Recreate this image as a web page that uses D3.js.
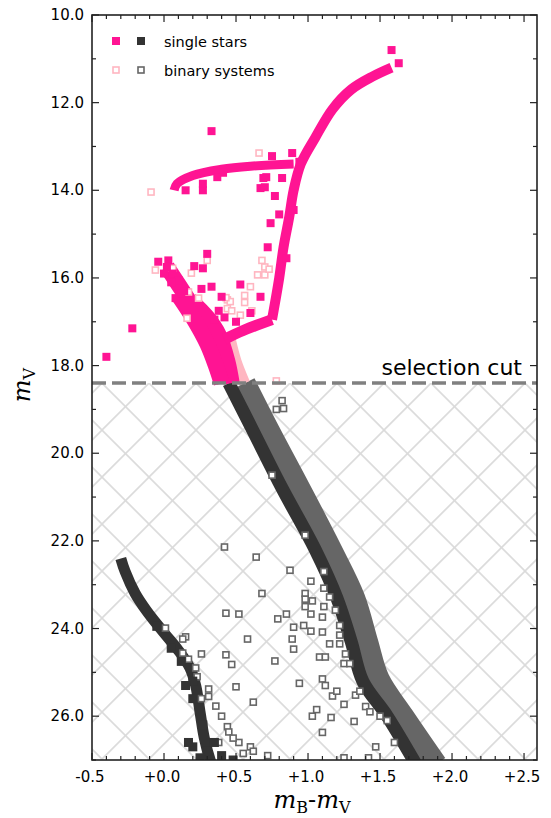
<!DOCTYPE html>
<html><head><meta charset="utf-8">
<script src="https://cdn.jsdelivr.net/npm/d3@7"></script>
<style>body{margin:0;background:#fff}</style>
</head><body><svg id="c" width="551" height="818"></svg>
<script>
// dense sequences, [colour index, magnitude]
var rgb = [[0.75,16.95],[0.8,16.0],[0.83,15.3],[0.87,14.6],[0.9,14.0],[0.95,13.4],[1.05,12.8],[1.17,12.15],[1.3,11.7],[1.45,11.4],[1.58,11.2]];
var sgb = [[0.42,17.4],[0.55,17.2],[0.75,16.95]];
var hb = [[0.07,14.0],[0.09,13.85],[0.2,13.66],[0.4,13.52],[0.6,13.45],[0.9,13.4]];
var toA = [[0.02,15.75],[0.1,16.15],[0.2,16.65],[0.3,17.15],[0.37,17.7],[0.42,18.4]];
var toB = [[0.18,16.5],[0.3,16.9],[0.38,17.3],[0.44,17.9],[0.47,18.4]];
var toC = [[0.1,16.4],[0.2,16.9],[0.3,17.5],[0.36,18.0],[0.4,18.4]];
var pinkBin = [[0.46,17.4],[0.5,17.9],[0.56,18.4]];
var msSingle = [[0.45,18.4],[0.62,19.5],[0.82,20.8],[1.05,22.2],[1.2,23.3],[1.3,24.3],[1.38,25.2],[1.55,26.0],[1.75,27.1]];
var msBin = [[0.56,18.4],[0.73,19.5],[0.94,20.8],[1.16,22.2],[1.32,23.3],[1.41,24.3],[1.49,25.15],[1.66,26.0],[1.89,27.1]];
var wd = [[-0.3,22.4],[-0.27,22.7],[-0.2,23.2],[-0.12,23.6],[0.0,24.1],[0.1,24.5],[0.18,24.9],[0.22,25.3],[0.25,25.9],[0.28,26.5],[0.33,27.1]];

// scattered stars
var pinkSingle = [[0.33,12.65],[0.15,14.0],[0.27,14.0],[0.27,13.85],[0.41,13.6],[0.37,13.7],[0.69,13.72],[0.71,13.7],[0.67,13.95],[0.7,13.93],[0.82,13.72],[0.77,14.13],[0.75,13.22],[0.89,13.15],[0.94,13.35],
  [-0.22,17.15],[-0.4,17.8],[0.3,15.45],[0.74,14.75],[0.72,15.3],[0.85,15.55],[0.8,14.55],[0.9,14.45],[0.53,16.15],[0.67,16.43],[0.4,16.43],[0.33,16.2],[0.26,16.25],
  [0.21,15.73],[0.27,15.78],[-0.04,15.63],[0.03,15.6],[0.06,15.9],[0.1,16.05],[0.08,16.46],[0.38,16.75],[1.63,11.1],[1.58,10.8],[0.02,15.75],[0.14,16.3],[0.6,16.8],
  [0.0,15.9],[0.05,16.1],[0.12,16.35],[0.35,16.95],[0.42,16.9],[0.5,17.0]];
var pinkBinary = [[-0.09,14.04],[0.66,13.15],[-0.06,15.82],[0.06,15.78],[0.19,15.89],[0.3,15.6],[0.17,16.32],[0.24,16.46],[0.44,16.5],[0.46,16.54],[0.56,16.56],[0.56,16.4],
  [0.6,16.2],[0.65,15.93],[0.7,15.93],[0.7,15.75],[0.68,15.6],[0.73,15.8],[0.44,16.7],[0.47,16.75],[0.53,16.85],[0.61,16.75],[0.16,16.92],[0.43,16.45],[0.78,18.35]];
var greyBinary = [[0.82,18.8],[0.78,19.0],[0.83,18.98],[0.75,20.5],[0.98,21.87],
  [0.42,22.14],[0.64,22.37],[0.875,22.67],[1.02,22.92],[1.11,22.7],[0.68,23.2],[0.98,23.2],[0.98,23.33],[1.03,23.37],[1.11,23.08],[1.15,23.28],
  [0.43,23.65],[0.52,23.67],[0.79,23.78],[0.85,23.67],[0.98,23.5],[1.02,23.67],[1.1,23.74],[1.11,23.5],[0.9,23.97],[0.97,23.93],[1.02,24.06],[1.1,24.08],
  [1.19,23.58],[1.22,23.93],[1.22,24.15],[0.01,23.99],[0.15,24.19],[0.13,24.24],[0.26,24.58],[0.58,24.24],[0.89,24.24],[0.9,24.47],[0.43,24.6],[0.47,24.82],
  [0.77,24.74],[1.08,24.65],[1.12,24.65],[1.15,24.35],[1.22,24.35],[1.26,24.58],[1.25,24.8],[1.29,24.8],[0.13,24.56],[0.17,24.7],[0.22,24.9],[0.23,25.1],
  [0.94,25.25],[1.1,25.15],[1.12,25.3],[0.5,25.33],[0.62,25.68],[0.31,25.38],[0.31,25.55],[0.26,25.6],[0.36,25.77],[0.4,26.0],[1.17,25.54],[1.2,25.43],
  [1.25,25.73],[1.33,25.52],[1.36,25.43],[1.4,25.78],[1.03,26.0],[1.06,25.85],[1.16,26.03],[1.32,26.12],[1.1,26.37],[1.47,26.7],[0.44,26.24],[0.45,26.36],
  [0.52,26.6],[0.6,26.7],[0.62,26.8],[0.72,26.9],[1.43,25.9],[1.5,26.0],[1.55,26.1],[1.6,26.6],[1.25,26.95],[1.42,26.95],[0.48,26.5],[0.55,26.85],[0.38,26.6]];
var darkSingle = [[0.2,26.7],[0.3,26.8],[0.4,26.9],[0.48,27.0],[0.25,26.95],[0.35,26.6],[0.17,26.6],[-0.05,23.95],[0.05,24.45],[0.12,24.75],[0.2,25.2],[0.15,25.3],[0.2,25.6],[0.27,26.2]];

var xTicks = [-0.5,0,0.5,1,1.5,2,2.5];
var yTicks = [10,12,14,16,18,20,22,24,26];
var cut = 18.4;

var L = 92, R = 537, T = 15, B = 760;
var x = d3.scaleLinear().domain([-0.5, 2.59]).range([L, R]);
var y = d3.scaleLinear().domain([10, 27]).range([T, B]);
var svg = d3.select("#c");
var pink = "#ff1493", lpink = "#ffb6c1", dark = "#333333", grey = "#666666";

var defs = svg.append("defs");
defs.append("clipPath").attr("id", "clip").append("rect").attr("x", L).attr("y", T).attr("width", R - L).attr("height", B - T);
var pat = defs.append("pattern").attr("id", "hatch").attr("patternUnits", "userSpaceOnUse")
  .attr("width", 47).attr("height", 47).attr("x", L + 10).attr("y", y(cut));
pat.append("path").attr("d", "M0,0L47,47M47,0L0,47M-5,42L5,52M42,-5L52,5").attr("stroke", "#dadada").attr("stroke-width", 1.6);

var g = svg.append("g").attr("clip-path", "url(#clip)");
g.append("rect").attr("x", L).attr("y", y(cut)).attr("width", R - L).attr("height", B - y(cut)).attr("fill", "url(#hatch)");

var line = d3.line().x(function(d){return x(d[0]);}).y(function(d){return y(d[1]);}).curve(d3.curveCatmullRom);
function band(data, col, w) {
  g.append("path").attr("d", line(data)).attr("fill", "none").attr("stroke", col)
   .attr("stroke-width", w).attr("stroke-linejoin", "round").attr("stroke-linecap", "butt");
}
band(msBin, grey, 22);
band(msSingle, dark, 13);
band(wd, dark, 11);
band(pinkBin, lpink, 11);
band(toA, pink, 16);
band(toB, pink, 16);
band(toC, pink, 16);
band(sgb, pink, 11);
band(rgb, pink, 10);
band(hb, pink, 9);

function squares(data, fill, stroke, s) {
  g.selectAll(null).data(data).enter().append("rect")
    .attr("x", function(d){return x(d[0]) - s/2;}).attr("y", function(d){return y(d[1]) - s/2;})
    .attr("width", s).attr("height", s).attr("fill", fill).attr("stroke", stroke).attr("stroke-width", stroke == "none" ? 0 : 1.6);
}
squares(greyBinary, "#fff", grey, 6);
squares(darkSingle, dark, "none", 9);
squares(pinkBinary, "#fff", lpink, 6);
squares(pinkSingle, pink, "none", 8);

// selection cut
svg.append("line").attr("x1", L).attr("x2", R).attr("y1", y(cut)).attr("y2", y(cut))
  .attr("stroke", "#808080").attr("stroke-width", 3.5).attr("stroke-dasharray", "14,6");
svg.append("text").attr("x", 522).attr("y", y(cut) - 8).attr("text-anchor", "end")
  .attr("font-family", "DejaVu Sans").attr("font-size", 22).text("selection cut");

// frame and ticks
svg.append("rect").attr("x", L).attr("y", T).attr("width", R - L).attr("height", B - T)
  .attr("fill", "none").attr("stroke", "#222").attr("stroke-width", 1.6);
var tk = svg.append("g").attr("stroke", "#222").attr("stroke-width", 1.2);
d3.range(-0.5, 2.591, 0.1).forEach(function(v) {
  var maj = xTicks.some(function(t){return Math.abs(t - v) < 1e-6;});
  var l = maj ? 7 : 4;
  tk.append("line").attr("x1", x(v)).attr("x2", x(v)).attr("y1", B).attr("y2", B - l);
  tk.append("line").attr("x1", x(v)).attr("x2", x(v)).attr("y1", T).attr("y2", T + l);
});
d3.range(10, 27.01, 1).forEach(function(v) {
  var l = v % 2 == 0 ? 7 : 4;
  tk.append("line").attr("x1", L).attr("x2", L + l).attr("y1", y(v)).attr("y2", y(v));
  tk.append("line").attr("x1", R).attr("x2", R - l).attr("y1", y(v)).attr("y2", y(v));
});
svg.selectAll(".xl").data(xTicks).enter().append("text")
  .attr("x", function(d){return x(d) - 2;}).attr("y", B + 22).attr("text-anchor", "middle")
  .attr("font-family", "DejaVu Sans").attr("font-size", 15)
  .text(function(d){return (d < 0 ? "-" : "+") + Math.abs(d).toFixed(1);});
svg.selectAll(".yl").data(yTicks).enter().append("text")
  .attr("x", L - 8).attr("y", function(d){return y(d) + 5;}).attr("text-anchor", "end")
  .attr("font-family", "DejaVu Sans").attr("font-size", 15)
  .text(function(d){return d.toFixed(1);});

// axis titles
var xt = svg.append("text").attr("x", 312).attr("y", 808).attr("text-anchor", "middle")
  .attr("font-family", "DejaVu Serif").attr("font-size", 24);
xt.append("tspan").attr("font-style", "italic").text("m");
xt.append("tspan").attr("font-size", 16).attr("dy", 5).text("B");
xt.append("tspan").attr("dy", -5).text("-");
xt.append("tspan").attr("font-style", "italic").text("m");
xt.append("tspan").attr("font-size", 16).attr("dy", 5).text("V");
var yt = svg.append("text").attr("transform", "translate(30,385) rotate(-90)").attr("text-anchor", "middle")
  .attr("font-family", "DejaVu Serif").attr("font-size", 24);
yt.append("tspan").attr("font-style", "italic").text("m");
yt.append("tspan").attr("font-size", 16).attr("dy", 5).text("V");

// legend
var lg = svg.append("g");
lg.append("rect").attr("x", 112).attr("y", 37).attr("width", 8).attr("height", 8).attr("fill", pink);
lg.append("rect").attr("x", 137).attr("y", 37).attr("width", 8).attr("height", 8).attr("fill", dark);
lg.append("rect").attr("x", 113).attr("y", 67).attr("width", 6).attr("height", 6).attr("fill", "#fff").attr("stroke", lpink).attr("stroke-width", 1.6);
lg.append("rect").attr("x", 138).attr("y", 67).attr("width", 6).attr("height", 6).attr("fill", "#fff").attr("stroke", grey).attr("stroke-width", 1.6);
lg.append("text").attr("x", 164).attr("y", 47).attr("font-family", "DejaVu Sans").attr("font-size", 14.5).text("single stars");
lg.append("text").attr("x", 164).attr("y", 76).attr("font-family", "DejaVu Sans").attr("font-size", 14.5).text("binary systems");
</script></body></html>
